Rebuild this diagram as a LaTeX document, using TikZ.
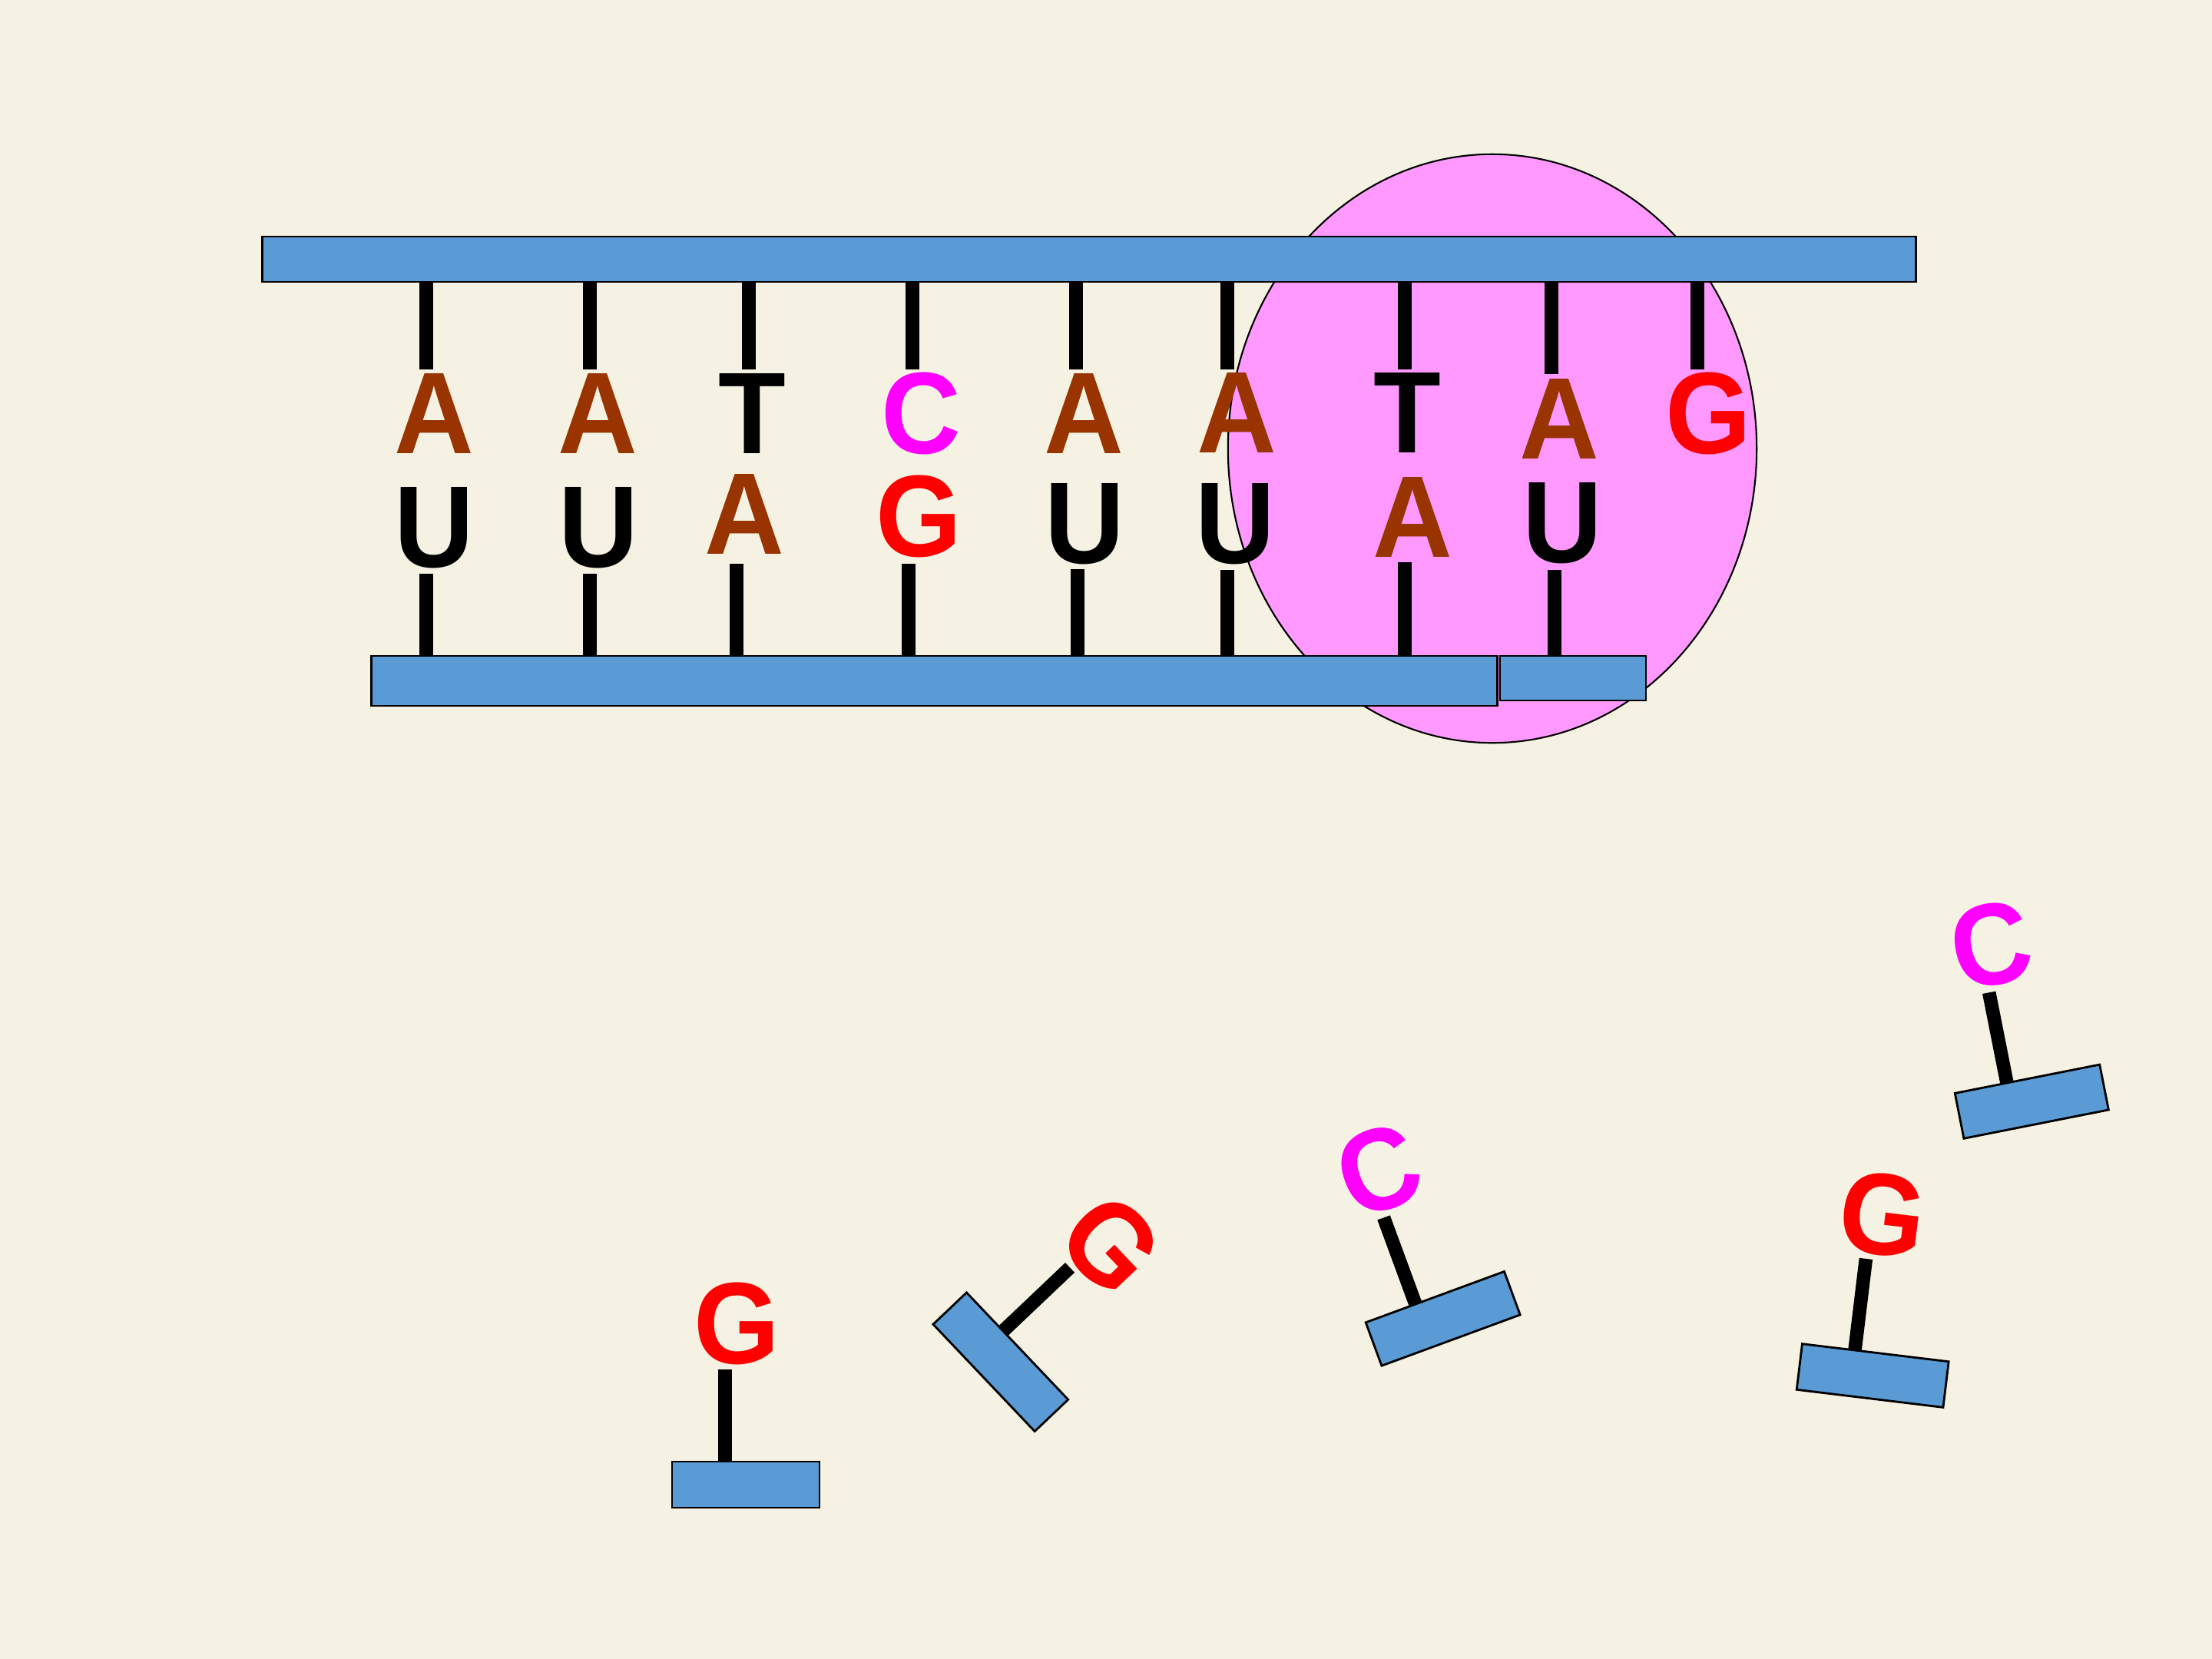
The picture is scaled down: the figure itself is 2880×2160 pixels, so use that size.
\documentclass[tikz,border=0pt]{standalone}
\usepackage{fontspec}
\setmainfont{Liberation Sans}[FakeStretch=0.95]
\usetikzlibrary{shapes.geometric}
\definecolor{bgbeige}{RGB}{245,242,228}
\definecolor{barblue}{RGB}{91,155,213}
\definecolor{polpink}{RGB}{255,153,255}
\definecolor{abrown}{RGB}{153,51,0}
\definecolor{cmag}{RGB}{255,0,255}
\definecolor{gred}{RGB}{255,0,0}
\tikzset{
  bar/.style={draw=black, line width=0.8pt, fill=barblue, rectangle, inner sep=0pt, outer sep=0pt},
  rung/.style={line width=5pt, black},
  base/.style={inner sep=0pt, outer sep=0pt, anchor=base, font=\bfseries\fontsize{43}{43}\selectfont},
  nbox/.style={bar, minimum width=1.92cm, minimum height=0.6cm},
}
\begin{document}
\begin{tikzpicture}[x=0.01cm, y=0.01cm]
\useasboundingbox (0,0) rectangle (2880,-2160);
\fill[bgbeige] (0,0) rectangle (2880,-2160);

% polymerase
\node[ellipse, draw=black, line width=0.6pt, fill=polpink, inner sep=0pt,
      minimum width=6.88cm, minimum height=7.66cm] (pol) at (1943,-584) {};

% rung end points
\foreach \x/\y [count=\i] in {555/481,768/481,975/481,1188/481,1401/481,1598/481,1829/481,2020/487,2210/481}
  \coordinate (tr\i) at (\x,-\y);
\foreach \x/\y [count=\i] in {555/747,768/747,959/734,1183/734,1403/741,1598/742,1829/732,2024/742}
  \coordinate (br\i) at (\x,-\y);

% bars (as nodes)
\node[bar, minimum width=21.52cm, minimum height=0.59cm] (topbar) at (1418,-337.5) {};
\node[bar, minimum width=14.65cm, minimum height=0.65cm] (botbar) at (1216.5,-886.5) {};
\node[bar, minimum width=1.90cm, minimum height=0.58cm] (newbar) at (2048,-883) {};

% rungs
\foreach \i in {1,...,9}
  \draw[rung] (topbar.south -| tr\i) -- (tr\i);
\foreach \i in {1,...,7}
  \draw[rung] (br\i) -- (botbar.north -| br\i);
\draw[rung] (br8) -- (newbar.north -| br8);

% redraw bars over rung ends
\node[bar, minimum width=21.52cm, minimum height=0.59cm] at (topbar) {};
\node[bar, minimum width=14.65cm, minimum height=0.65cm] at (botbar) {};
\node[bar, minimum width=1.90cm, minimum height=0.58cm] at (newbar) {};

% top strand letters
\node[base, text=abrown] (t1) at (565,-590) {A};
\node[base, text=abrown] (t2) at (778,-590) {A};
\node[base, text=black]  (t3) at (979,-590) {T};
\node[base, text=cmag]   (t4) at (1199,-590) {C};
\node[base, text=abrown] (t5) at (1411,-590) {A};
\node[base, text=abrown] (t6) at (1610,-589) {A};
\node[base, text=black]  (t7) at (1832,-589) {T};
\node[base, text=abrown] (t8) at (2030,-597) {A};
\node[base, text=gred]   (t9) at (2224,-590) {G};

% bottom strand letters
\node[base, text=black]  (b1) at (565,-738) {U};
\node[base, text=black]  (b2) at (779,-738) {U};
\node[base, text=abrown] (b3) at (969,-721) {A};
\node[base, text=gred]   (b4) at (1196,-724) {G};
\node[base, text=black]  (b5) at (1412,-733) {U};
\node[base, text=black]  (b6) at (1608,-733) {U};
\node[base, text=abrown] (b7) at (1839,-725) {A};
\node[base, text=black]  (b8) at (2034,-732) {U};

% free nucleotides
\foreach \px/\py/\ang/\lt/\lc [count=\k] in {
   944/1903/0/G/gred,
   1306/1733/-46.5/G/gred,
   1843/1698/20.2/C/cmag,
   2613/1410/11.2/C/cmag,
   2415/1758/-6.9/G/gred}
{
  \begin{scope}[shift={(\px,-\py)}, rotate=\ang, transform shape]
    \coordinate (ns\k) at (0,0);
    \coordinate (nt\k) at (0,120);
    \draw[rung] (ns\k) -- (nt\k);
    \node[nbox] (nb\k) at (27,-30) {};
    \node[base, text=\lc] (nl\k) at (15,128) {\lt};
  \end{scope}
}
\end{tikzpicture}
\end{document}
